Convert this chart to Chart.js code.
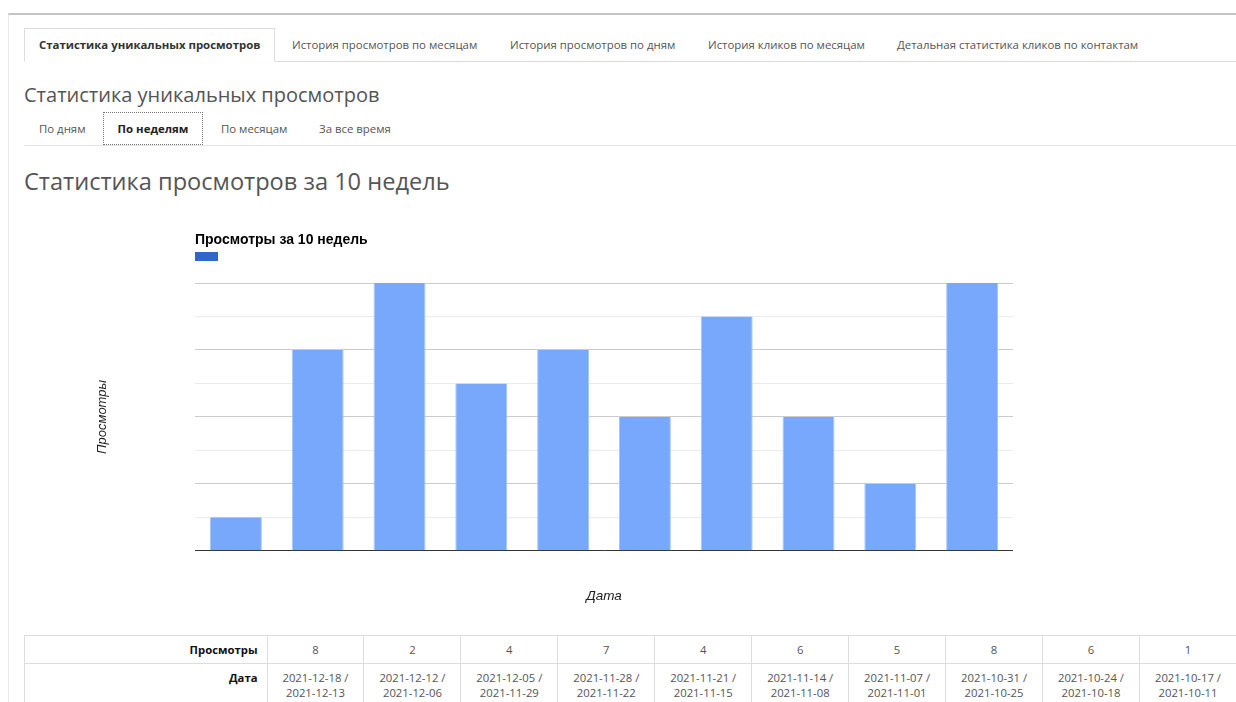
<!DOCTYPE html>
<html lang="ru">
<head>
<meta charset="utf-8">
<script src="https://cdn.jsdelivr.net/npm/chart.js@4"></script>
<style>
  html, body { margin: 0; padding: 0; background: #fff; }
  body { width: 1236px; height: 702px; position: relative; overflow: hidden; font-family: "Open Sans", sans-serif; color: #555; }
  .frame { position: absolute; left: 8px; top: 13px; right: 0; bottom: 0; border-top: 2px solid #c4c4c4; border-left: 1px solid #e8e8e8; }
  .tabs { position: absolute; left: 24px; top: 28px; right: 0; height: 33px; border-bottom: 1px solid #dddddd; font-size: 11.4px; }
  .tab { position: absolute; top: 0; line-height: 33px; color: #555; white-space: nowrap; }
  .tab.active { left: 0; top: 0; width: 251px; height: 34px; box-sizing: border-box; border: 1px solid #dddddd; border-bottom: 1px solid #fff; background: #fff; font-weight: 700; color: #333; line-height: 32px; padding-left: 14px; }
  .h1 { position: absolute; left: 24px; top: 81px; font-size: 20px; line-height: 28px; color: #555; white-space: nowrap; }
  .subtabs { position: absolute; left: 24px; top: 112px; right: 0; height: 33px; border-bottom: 1px solid #e5e5e5; font-size: 11.4px; }
  .st { position: absolute; top: 0; line-height: 33px; color: #555; white-space: nowrap; }
  .st.active { width: 100px; height: 33px; box-sizing: border-box; border: 1px dotted #777; font-weight: 700; color: #222; line-height: 31px; text-align: center; }
  .h2 { position: absolute; left: 24px; top: 165px; font-size: 23.6px; line-height: 32px; color: #555; white-space: nowrap; }
  #chartBox { position: absolute; left: 24px; top: 220px; width: 989px; height: 384px; }
  table { position: absolute; left: 24px; top: 635px; width: 1213px; border-collapse: collapse; font-size: 11.3px; color: #555; table-layout: fixed; }
  td { border: 1px solid #dddddd; text-align: center; padding: 0; }
  td.lab { text-align: right; font-weight: 700; color: #111; padding-right: 9px; }
  tr.r1 td { height: 27px; }
  tr.r2 td { height: 40px; line-height: 15px; padding-top: 6px; vertical-align: top; }
</style>
</head>
<body>
<div class="frame"></div>
<div class="tabs">
  <div class="tab active">Статистика уникальных просмотров</div>
  <div class="tab" style="left:268px">История просмотров по месяцам</div>
  <div class="tab" style="left:486px">История просмотров по дням</div>
  <div class="tab" style="left:684px">История кликов по месяцам</div>
  <div class="tab" style="left:873px">Детальная статистика кликов по контактам</div>
</div>
<div class="h1">Статистика уникальных просмотров</div>
<div class="subtabs">
  <div class="st" style="left:15px">По дням</div>
  <div class="st active" style="left:79px">По неделям</div>
  <div class="st" style="left:197px">По месяцам</div>
  <div class="st" style="left:295px">За все время</div>
</div>
<div class="h2">Статистика просмотров за 10 недель</div>
<div id="chartBox"><canvas id="c"></canvas></div>
<table id="tbl"></table>
<script>
// Data (newest week first, as in the table)
const weekEnds   = ['2021-12-18', '2021-12-12', '2021-12-05', '2021-11-28', '2021-11-21', '2021-11-14', '2021-11-07', '2021-10-31', '2021-10-24', '2021-10-17'];
const weekStarts = ['2021-12-13', '2021-12-06', '2021-11-29', '2021-11-22', '2021-11-15', '2021-11-08', '2021-11-01', '2021-10-25', '2021-10-18', '2021-10-11'];
const views      = [8, 2, 4, 7, 4, 6, 5, 8, 6, 1];
const chartTitle = 'Просмотры за 10 недель';
const yTitle = 'Просмотры';
const xTitle = 'Дата';
const yMax = 8;

// Table
const tbl = document.getElementById('tbl');
let cols = '<colgroup><col style="width:242.5px">' + views.map(() => '<col>').join('') + '</colgroup>';
let r1 = '<tr class="r1"><td class="lab">Просмотры</td>' + views.map(v => '<td>' + v + '</td>').join('') + '</tr>';
let r2 = '<tr class="r2"><td class="lab">Дата</td>' + weekEnds.map((e, i) => '<td>' + e + ' /<br>' + weekStarts[i] + '</td>').join('') + '</tr>';
tbl.innerHTML = cols + r1 + r2;

// Chart: oldest week on the left
const labels = weekEnds.map((e, i) => e + ' / ' + weekStarts[i]).reverse();
const values = views.slice().reverse();

const legendSquare = {
  id: 'legendSquare',
  afterDraw(chart) {
    const ctx = chart.ctx;
    ctx.save();
    ctx.fillStyle = '#3366cc';
    ctx.fillRect(chart.chartArea.left, 32, 23, 9);
    ctx.restore();
  }
};

new Chart(document.getElementById('c'), {
  type: 'bar',
  data: {
    labels: labels,
    datasets: [{
      label: chartTitle,
      data: values,
      backgroundColor: '#78a8fb',
      borderColor: '#a3c4fc',
      borderWidth: { left: 1, right: 1, top: 0, bottom: 0 },
      categoryPercentage: 1,
      barPercentage: 0.635
    }]
  },
  options: {
    responsive: true,
    maintainAspectRatio: false,
    animation: false,
    layout: { padding: 0 },
    plugins: {
      legend: { display: false },
      tooltip: { enabled: false },
      title: {
        display: true,
        text: chartTitle,
        align: 'start',
        fullSize: false,
        color: '#000',
        font: { family: 'Arial, "Liberation Sans"', size: 14, weight: 'bold', lineHeight: 1.2 },
        padding: { top: 12, bottom: 34.2 }
      }
    },
    scales: {
      x: {
        grid: { display: false, drawTicks: false },
        border: { display: true, color: '#333333', width: 1 },
        ticks: { display: false },
        title: {
          display: true,
          text: xTitle,
          color: '#222',
          font: { family: 'Arial, "Liberation Sans"', size: 13.5, style: 'italic', lineHeight: 1.2 },
          padding: { top: 37, bottom: 0 }
        }
      },
      y: {
        min: 0,
        max: yMax,
        ticks: { display: false, stepSize: 1 },
        border: { display: false },
        grid: {
          drawTicks: false,
          color: (c) => {
            const v = c.tick ? c.tick.value : 0;
            if (v === 0) return 'rgba(0,0,0,0)';
            return v % 2 === 0 ? '#cccccc' : '#ebebeb';
          },
          lineWidth: 1
        },
        title: {
          display: true,
          text: yTitle,
          color: '#222',
          font: { family: 'Arial, "Liberation Sans"', size: 13, style: 'italic', lineHeight: 1.2 },
          padding: { top: 71, bottom: 84.4 }
        }
      }
    }
  },
  plugins: [legendSquare]
});
</script>
</body>
</html>
